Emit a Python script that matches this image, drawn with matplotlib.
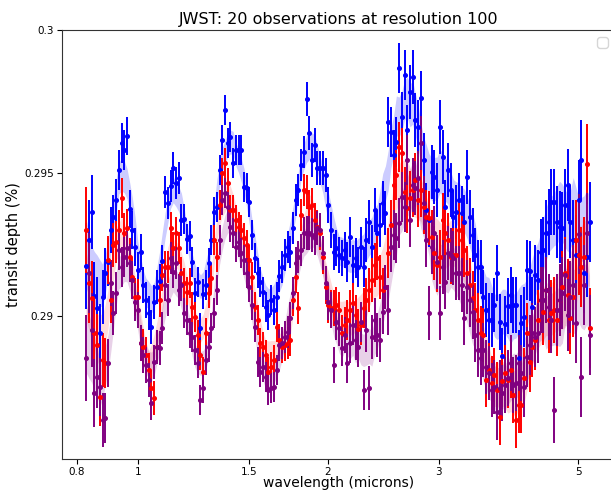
import numpy as np
import pandas as pd
import matplotlib
matplotlib.use("Agg")
import matplotlib.pyplot as plt
from matplotlib.ticker import NullLocator

# wavelength grid: constant resolving power R = 100 from 0.827 micron
resolution = 100
wl_start = 0.827
n_bins = 186
wavelength = wl_start * (1 + 1.0 / resolution) ** np.arange(n_bins)

# transit depth (%), one value per bin
blue = [
    0.29174, 0.29266, 0.29364, 0.29070, 0.29028, 0.28941, 0.29066, 0.29150, 0.29189, 0.29301,
    0.29346, 0.29406, 0.29511, 0.29605, 0.29580, 0.29629, 0.29374, 0.29301, 0.29241, 0.29161,
    0.29224, 0.29108, 0.29056, 0.29010, 0.28962, 0.29049, 0.29102, 0.29122, 0.29192, 0.29434,
    0.29395, 0.29455, 0.29518, 0.29465, 0.29483, 0.29336, 0.29339, 0.29269, 0.29280, 0.29189,
    0.29080, 0.29119, 0.28958, 0.29077, 0.29108, 0.29185, 0.29266, 0.29364, 0.29381, 0.29511,
    0.29615, 0.29720, 0.29605, 0.29626, 0.29535, 0.29580, 0.29580, 0.29580, 0.29451, 0.29447,
    0.29399, 0.29283, 0.29203, 0.29150, 0.29119, 0.29084, 0.29031, 0.29003, 0.29056, 0.29021,
    0.29066, 0.29140, 0.29171, 0.29213, 0.29241, 0.29224, 0.29308, 0.29406, 0.29441, 0.29528,
    0.29574, 0.29759, 0.29640, 0.29546, 0.29598, 0.29518, 0.29518, 0.29518, 0.29493, 0.29388,
    0.29301, 0.29224, 0.29238, 0.29213, 0.29203, 0.29231, 0.29189, 0.29276, 0.29178, 0.29203,
    0.29171, 0.29241, 0.29171, 0.29266, 0.29329, 0.29241, 0.29371, 0.29290, 0.29318, 0.29395,
    0.29360, 0.29678, 0.29643, 0.29563, 0.29608, 0.29867, 0.29696, 0.29843, 0.29650, 0.29783,
    0.29836, 0.29685, 0.29661, 0.29762, 0.29546, 0.29371, 0.29336, 0.29504, 0.29486, 0.29441,
    0.29661, 0.29556, 0.29381, 0.29511, 0.29441, 0.29346, 0.29364, 0.29406, 0.29360, 0.29329,
    0.29486, 0.29346, 0.29283, 0.29213, 0.29171, 0.29171, 0.29066, 0.29021, 0.28986, 0.28986,
    0.29038, 0.29150, 0.28979, 0.28860, 0.28972, 0.29035, 0.29073, 0.29038, 0.29038, 0.28853,
    0.28976, 0.28997, 0.29161, 0.29157, 0.29031, 0.29143, 0.29126, 0.29224, 0.29231, 0.29290,
    0.29329, 0.29399, 0.29399, 0.29329, 0.29311, 0.29308, 0.29388, 0.29458, 0.29329, 0.29266,
    0.29213, 0.29406, 0.29546, 0.29150, 0.29206, 0.29329,
]

red = [
    0.29301, 0.29115, 0.29063, 0.28941, 0.28899, 0.28717, 0.28846, 0.28836, 0.29196, 0.29056,
    0.29248, 0.29259, 0.29301, 0.29413, 0.29290, 0.29308, 0.29206, 0.29136, 0.29066, 0.29066,
    0.28906, 0.28892, 0.28864, 0.28811, 0.28749, 0.28713, 0.28892, 0.29056, 0.29143, 0.29171,
    0.29171, 0.29308, 0.29238, 0.29290, 0.29238, 0.29150, 0.29115, 0.29084, 0.29115, 0.29031,
    0.28996, 0.28934, 0.28864, 0.28804, 0.28941, 0.29080, 0.29133, 0.29266, 0.29206, 0.29388,
    0.29500, 0.29535, 0.29465, 0.29371, 0.29371, 0.29336, 0.29311, 0.29301, 0.29273, 0.29248,
    0.29196, 0.29136, 0.29031, 0.28986, 0.28906, 0.28892, 0.28864, 0.28804, 0.28822, 0.28846,
    0.28962, 0.28916, 0.28892, 0.28899, 0.28906, 0.28916, 0.29056, 0.29136, 0.29028, 0.29353,
    0.29441, 0.29434, 0.29381, 0.29388, 0.29336, 0.29311, 0.29290, 0.29206, 0.29101, 0.29038,
    0.29028, 0.29028, 0.29038, 0.29021, 0.28941, 0.28969, 0.28986, 0.29021, 0.29045, 0.29003,
    0.28955, 0.28969, 0.29028, 0.29056, 0.29091, 0.29126, 0.29178, 0.29203, 0.29136, 0.29091,
    0.29101, 0.29220, 0.29318, 0.29458, 0.29493, 0.29591, 0.29570, 0.29434, 0.29378, 0.29413,
    0.29441, 0.29476, 0.29406, 0.29441, 0.29381, 0.29346, 0.29343, 0.29276, 0.29220, 0.29178,
    0.29206, 0.29336, 0.29290, 0.29266, 0.29206, 0.29213, 0.29213, 0.29301, 0.29266, 0.29231,
    0.29150, 0.29108, 0.29063, 0.29021, 0.28986, 0.28941, 0.28934, 0.28777, 0.28811, 0.28766,
    0.28794, 0.28741, 0.28648, 0.28774, 0.28801, 0.28777, 0.28811, 0.28724, 0.28636, 0.28689,
    0.28689, 0.28783, 0.28941, 0.28839, 0.28892, 0.28916, 0.28986, 0.29056, 0.29014, 0.29091,
    0.28986, 0.29010, 0.29021, 0.28986, 0.29056, 0.29101, 0.29150, 0.29073, 0.28993, 0.29066,
    0.29266, 0.29213, 0.29171, 0.29206, 0.29532, 0.28958,
]

purple = [
    0.28853, 0.29150, 0.28951, 0.28731, 0.28787, 0.28752, 0.28636, 0.28643, 0.28836, 0.29115,
    0.29010, 0.29080, 0.29231, 0.29171, 0.29206, 0.29238, 0.29185, 0.29126, 0.29049, 0.29021,
    0.28906, 0.28864, 0.28829, 0.28777, 0.28696, 0.28839, 0.28892, 0.28888, 0.28958, 0.29108,
    0.29056, 0.29203, 0.29154, 0.29185, 0.29091, 0.29108, 0.29010, 0.28986, 0.28941, 0.28927,
    0.28881, 0.28836, 0.28706, 0.28749, 0.28846, 0.28892, 0.28958, 0.29010, 0.29091, 0.29266,
    0.29406, 0.29430, 0.29381, 0.29311, 0.29290, 0.29241, 0.29259, 0.29220, 0.29196, 0.29150,
    0.29101, 0.29038, 0.28962, 0.28839, 0.28804, 0.28822, 0.28787, 0.28742, 0.28748, 0.28752,
    0.28811, 0.28899, 0.28906, 0.28927, 0.28945, 0.28993, 0.29080, 0.29185, 0.29206, 0.29231,
    0.29290, 0.29290, 0.29290, 0.29283, 0.29273, 0.29308, 0.29301, 0.29220, 0.29115, 0.29049,
    0.29021, 0.28829, 0.28979, 0.28958, 0.28888, 0.28934, 0.28836, 0.28906, 0.28969, 0.28916,
    0.28892, 0.28979, 0.28742, 0.28951, 0.28748, 0.28927, 0.28986, 0.28934, 0.28916, 0.29014,
    0.29101, 0.29021, 0.29241, 0.29283, 0.29273, 0.29325, 0.29416, 0.29381, 0.29546, 0.29336,
    0.29458, 0.29447, 0.29483, 0.29605, 0.29395, 0.29266, 0.29010, 0.29241, 0.29290, 0.29189,
    0.29010, 0.29171, 0.29119, 0.29220, 0.29213, 0.29203, 0.29150, 0.29150, 0.29108, 0.28993,
    0.29101, 0.29056, 0.29014, 0.28934, 0.28881, 0.28853, 0.28881, 0.28822, 0.28801, 0.28742,
    0.28752, 0.28664, 0.28748, 0.28731, 0.28759, 0.28783, 0.28836, 0.28759, 0.28766, 0.28836,
    0.28801, 0.28752, 0.28857, 0.28899, 0.28941, 0.28927, 0.28941, 0.29056, 0.29056, 0.29091,
    0.29031, 0.28986, 0.28671, 0.29021, 0.29056, 0.29080, 0.29143, 0.29003, 0.29066, 0.29108,
    0.28976, 0.29287, 0.28787, 0.29108, 0.29290, 0.28934,
]

# 1-sigma error per bin (shared by the three series), as runs of (value, count)
sigma_runs = [
    (0.00150, 1), (0.00140, 1), (0.00129, 1), (0.00119, 1), (0.00108, 1), (0.00101, 1),
    (0.00094, 1), (0.00087, 1), (0.00084, 1), (0.00080, 1), (0.00077, 1), (0.00073, 1),
    (0.00070, 3), (0.00066, 4), (0.00063, 4), (0.00059, 5), (0.00056, 8), (0.00052, 35),
    (0.00056, 10), (0.00059, 8), (0.00063, 7), (0.00070, 7), (0.00077, 8), (0.00087, 8),
    (0.00094, 32), (0.00098, 10), (0.00105, 6), (0.00115, 6), (0.00126, 6), (0.00140, 7),
]
sigma = np.concatenate([[v] * n for v, n in sigma_runs])

series = [(blue, 'blue', 0.20), (red, 'red', 0.14), (purple, 'purple', 0.18)]

fig = plt.figure(figsize=(6.11, 4.92), dpi=100)
ax = fig.add_axes([0.1015, 0.0671, 0.905, 0.872])

# shaded bands: smoothed spectrum +/- part of the error
for vals, col, alpha in series:
    smooth = pd.Series(vals).rolling(7, center=True, min_periods=1).mean().values
    ax.fill_between(wavelength, smooth - 0.8 * sigma, smooth + 0.8 * sigma,
                    color=col, alpha=alpha, linewidth=0, zorder=1)

for vals, col, alpha in series:
    ax.errorbar(wavelength, vals, yerr=sigma, fmt='o', color=col, ms=2.6,
                elinewidth=1.4, capsize=0, zorder=2)

ax.set_xscale('log')
ax.set_xlim(0.757, 5.72)
ax.set_ylim(0.285, 0.3)
ax.set_xticks([0.8, 1, 1.5, 2, 3, 5])
ax.set_xticklabels(['0.8', '1', '1.5', '2', '3', '5'])
ax.xaxis.set_minor_locator(NullLocator())
ax.set_yticks([0.29, 0.295, 0.3])
ax.set_yticklabels(['0.29', '0.295', '0.3'])
ax.tick_params(labelsize=7.5, pad=2.5)
for s in ax.spines.values():
    s.set_color('#333333')

ax.set_xlabel('wavelength (microns)', fontsize=10, labelpad=-1)
ax.set_ylabel('transit depth (%)', fontsize=10.5, labelpad=2)
ax.set_title('JWST: 20 observations at resolution 100', fontsize=11.5, pad=4)
ax.legend(loc='upper right')

fig.savefig('out.png', dpi=100)
